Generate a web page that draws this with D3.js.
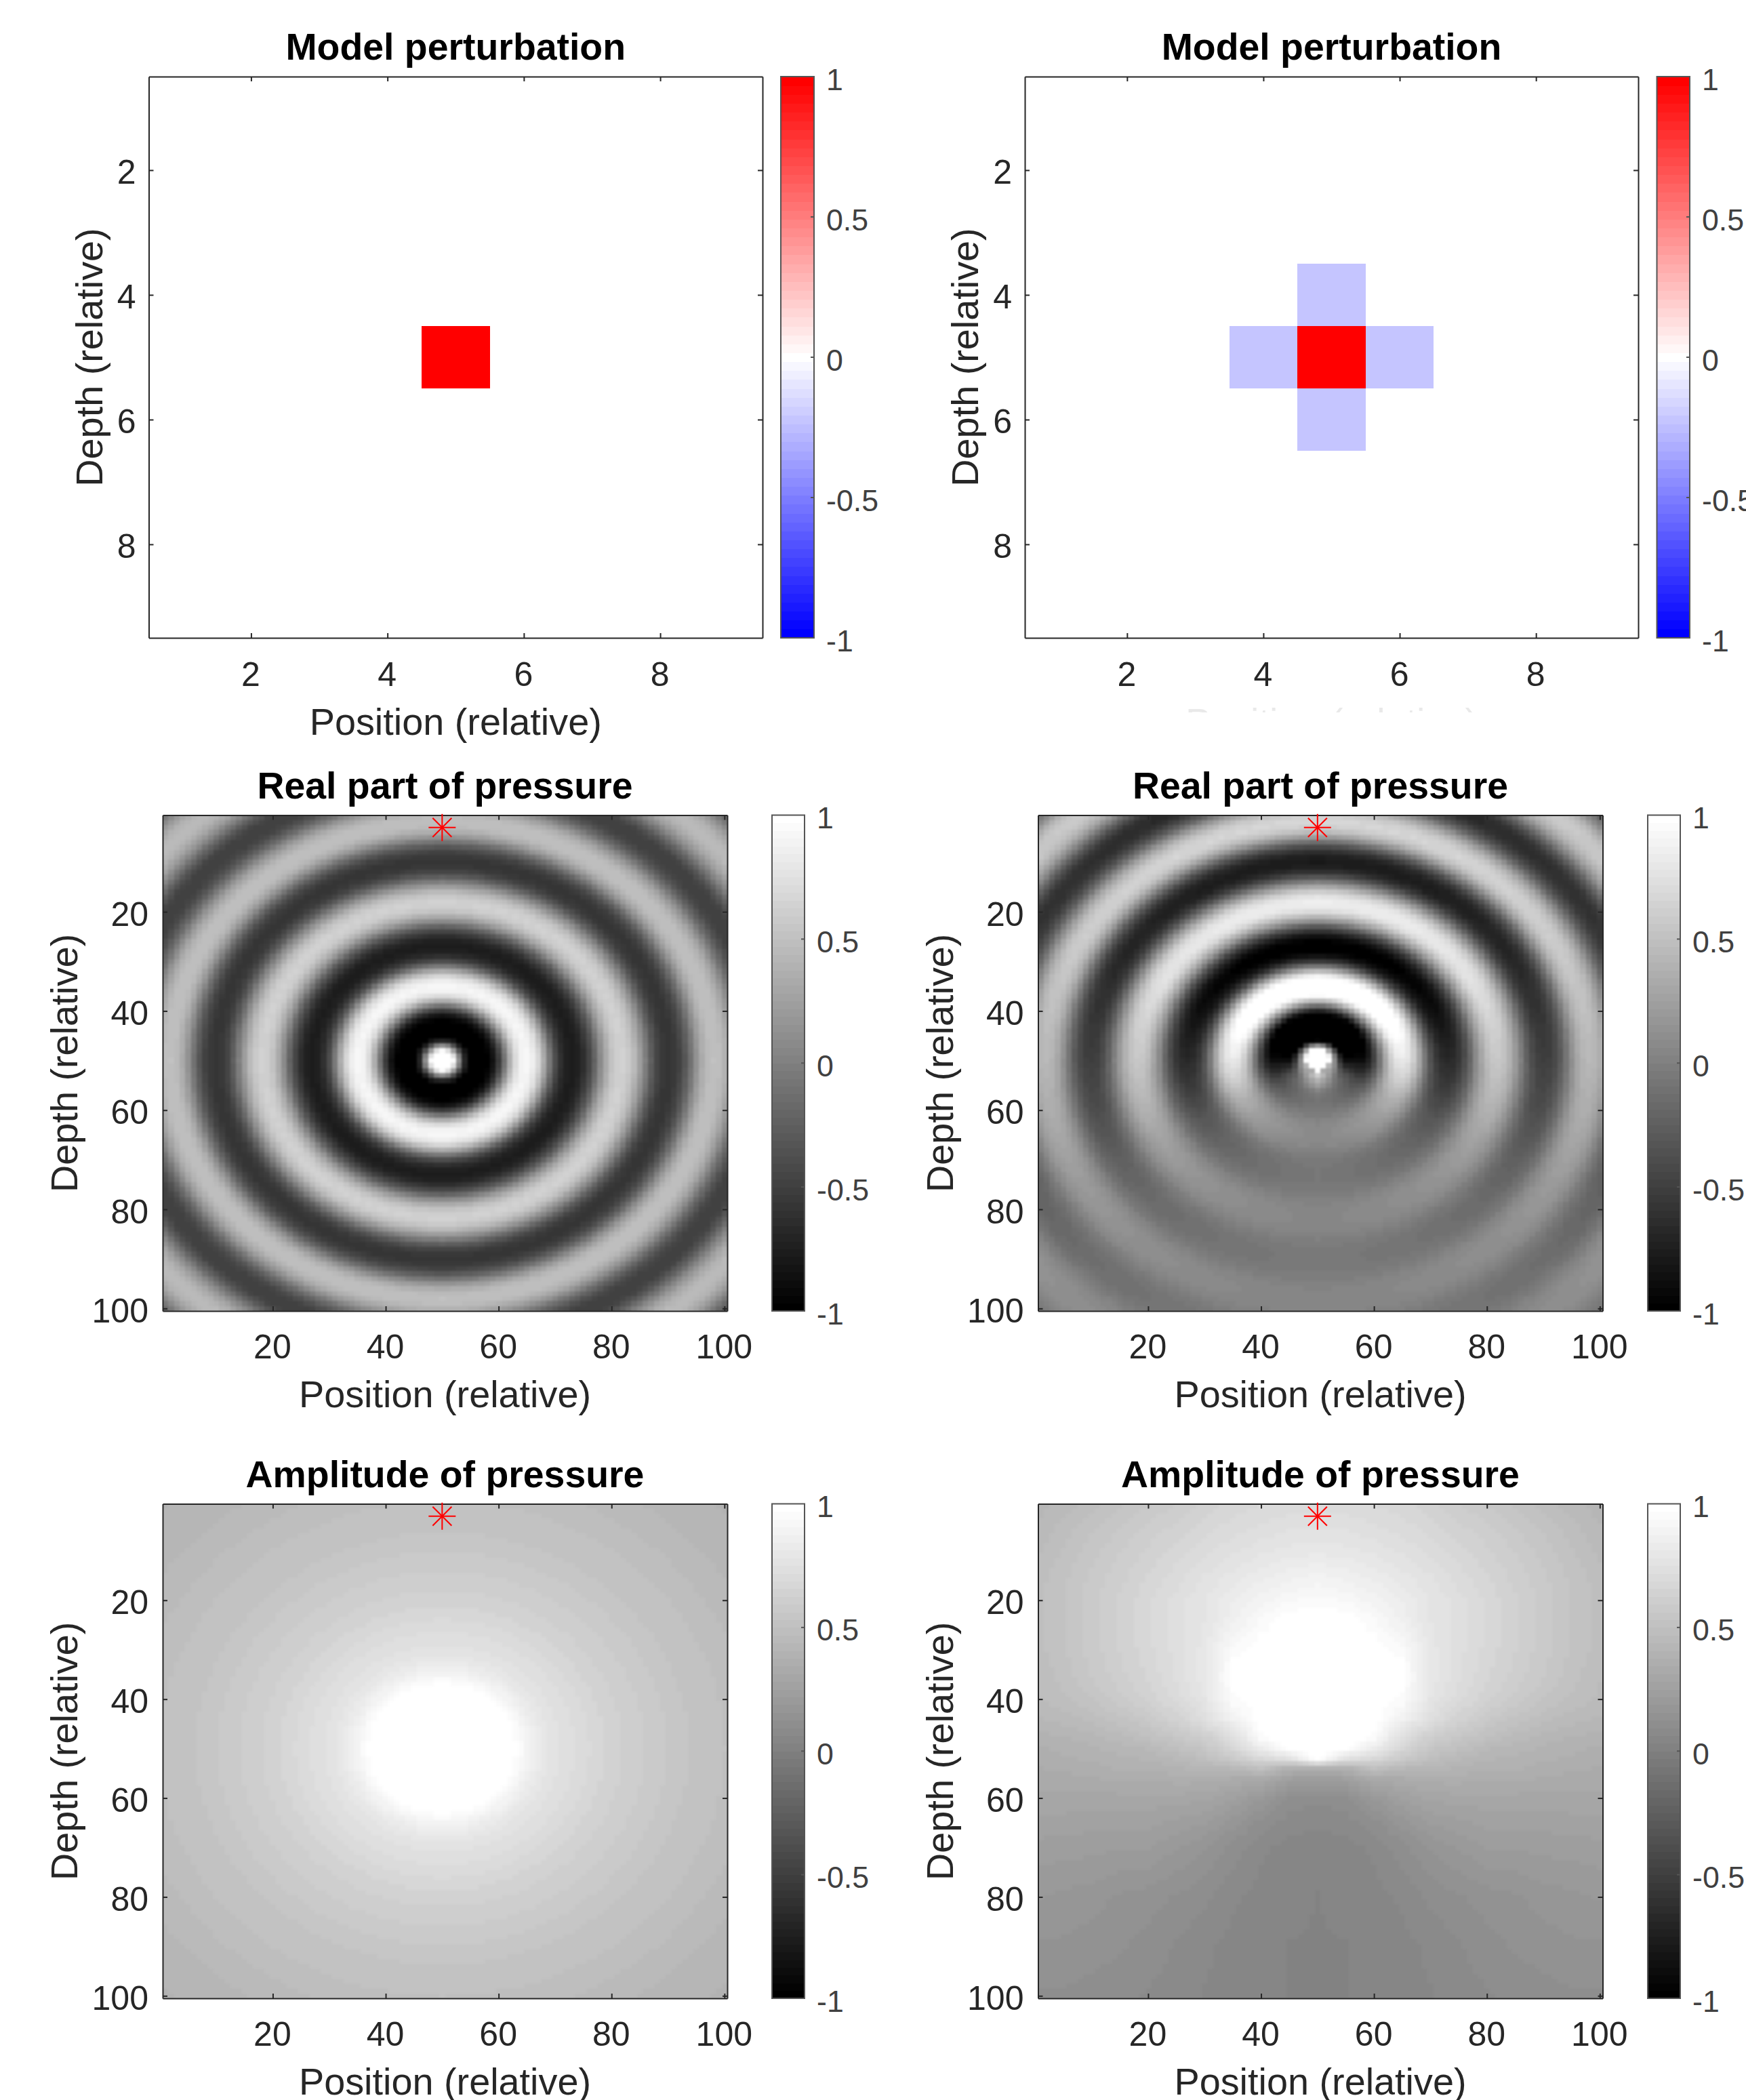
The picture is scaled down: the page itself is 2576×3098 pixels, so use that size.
<!DOCTYPE html>
<html><head><meta charset="utf-8">
<style>html,body{margin:0;padding:0;background:#fff;overflow:hidden}svg{display:block}text{font-family:"Liberation Sans",Arial,sans-serif}</style>
<script src="https://cdn.jsdelivr.net/npm/d3@7"></script></head>
<body><div id="chart"></div>
<script>
// ---- Values estimated by eye from the reference. The pressure fields are not per-cell
// readings: each cell is looked up between the tables below.
const modelTicks=[2,4,6,8];
const fieldTicks=[20,40,60,80,100];
const barTicks=[-1,-0.5,0,0.5,1];
const barLabels=["-1","-0.5","0","0.5","1"];
const perturbationSingle=[
[0,0,0,0,0,0,0,0,0],[0,0,0,0,0,0,0,0,0],[0,0,0,0,0,0,0,0,0],[0,0,0,0,0,0,0,0,0],
[0,0,0,0,1,0,0,0,0],
[0,0,0,0,0,0,0,0,0],[0,0,0,0,0,0,0,0,0],[0,0,0,0,0,0,0,0,0],[0,0,0,0,0,0,0,0,0]];
const perturbationCross=[
[0,0,0,0,0,0,0,0,0],[0,0,0,0,0,0,0,0,0],[0,0,0,0,0,0,0,0,0],
[0,0,0,0,-0.22,0,0,0,0],
[0,0,0,-0.22,1,-0.22,0,0,0],
[0,0,0,0,-0.22,0,0,0,0],
[0,0,0,0,0,0,0,0,0],[0,0,0,0,0,0,0,0,0],[0,0,0,0,0,0,0,0,0]];
// real part read along a radius from the centre (50,50), radius 0..71
const realProfile=[1,1,.95,.1,-.7,-1,-1,-1,-1,-.85,-.55,-.1,.35,.7,.88,.92,.86,.68,.35,-.05,-.4,-.62,-.73,-.77,-.74,-.64,-.46,-.22,.08,.32,.52,.62,.63,.58,.45,.24,0,-.25,-.44,-.55,-.58,-.56,-.48,-.32,-.1,.14,.34,.46,.5,.48,.4,.25,.05,-.16,-.33,-.45,-.5,-.5,-.44,-.3,-.12,.08,.25,.37,.44,.45,.42,.33,.18,0,-.16,-.3];
// amplitude read along a radius for the single cell model
const ampRadii=[0,12,14,16,18,20,25,30,35,40,45,50,55,60,65,71];
const ampProfile=[1,1,.94,.86,.8,.76,.7,.64,.6,.56,.52,.5,.47,.44,.42,.4];
// ring strength in the cross model by angle from straight up
const gainAngles=[0,30,60,90,105,120,135,150,165,180];
const gainValues=[1.35,1.32,1.2,.88,.68,.42,.27,.18,.12,.08];
// bright tail below the centre in the cross model
const tailRadii=[0,2,3,4,5,6,7,8];
const tailValues=[0,.2,.6,.45,.3,.12,.03,0];
const tailAngles=[0,90,135,180];
const tailGain=[0,0,.4,1];
// amplitude for the cross model: rows by depth, columns by distance from x=50
const ampCrossOffsets=[0,5,10,15,20,25,30,35,40,45,50];
const ampCrossDepths=[1,5,10,15,20,24,28,32,36,40,44,48,50,52,54,56,60,65,70,80,90,100];
const ampCross=[
[.7,.7,.69,.67,.64,.6,.56,.53,.49,.45,.42],
[.74,.74,.72,.7,.67,.63,.6,.56,.52,.48,.44],
[.8,.79,.77,.74,.71,.67,.63,.59,.55,.5,.46],
[.88,.86,.83,.79,.75,.7,.66,.61,.57,.52,.48],
[.95,.93,.89,.84,.78,.73,.68,.63,.58,.53,.49],
[1,1,.94,.86,.78,.73,.68,.63,.58,.53,.49],
[1,1,.98,.92,.79,.73,.68,.63,.58,.53,.49],
[1,1,1,.97,.8,.73,.67,.62,.57,.52,.48],
[1,1,1,.98,.8,.72,.66,.61,.56,.51,.47],
[1,1,1,.96,.78,.7,.63,.58,.53,.49,.46],
[1,1,1,.88,.72,.64,.57,.52,.48,.45,.43],
[1,1,.95,.72,.6,.54,.49,.45,.42,.4,.39],
[1,.98,.82,.66,.54,.49,.44,.42,.4,.38,.37],
[1,.75,.68,.58,.48,.44,.41,.4,.38,.37,.35],
[.38,.38,.5,.44,.42,.4,.38,.38,.36,.35,.34],
[.22,.25,.33,.34,.36,.36,.35,.35,.34,.33,.33],
[.1,.11,.19,.25,.29,.3,.3,.3,.3,.3,.3],
[.07,.08,.11,.17,.22,.24,.26,.26,.26,.27,.27],
[.04,.05,.07,.11,.16,.19,.22,.22,.23,.23,.24],
[.03,.04,.05,.07,.1,.12,.14,.15,.17,.18,.19],
[.03,.03,.04,.05,.07,.09,.11,.13,.14,.15,.15],
[.03,.03,.04,.05,.06,.08,.09,.1,.11,.12,.12]];
const sourcePosition=[50,3];
const titles={model:"Model perturbation",real:"Real part of pressure",amp:"Amplitude of pressure"};
const xLabel="Position (relative)",yLabel="Depth (relative)";

// ---- Lookups
const realLookup=d3.scaleLinear().domain(realProfile.map((_,i)=>i)).range(realProfile).clamp(true);
const ampLookup=d3.scaleLinear().domain(ampRadii).range(ampProfile).clamp(true);
const gainLookup=d3.scaleLinear().domain(gainAngles).range(gainValues);
const tailLookup=d3.scaleLinear().domain(tailRadii).range(tailValues).clamp(true);
const tailGainLookup=d3.scaleLinear().domain(tailAngles).range(tailGain);
const crossColumns=ampCrossOffsets.map((_,c)=>d3.scaleLinear().domain(ampCrossDepths).range(ampCross.map(r=>r[c])).clamp(true));
const dist=(x,y)=>Math.hypot(x-50,y-50);
const angle=(x,y)=>Math.atan2(Math.abs(x-50),50-y)*180/Math.PI;
const fieldRealSingle=(x,y)=>realLookup(dist(x,y));
const fieldAmpSingle=(x,y)=>ampLookup(dist(x,y));
const fieldRealCross=(x,y)=>{const r=dist(x,y),a=angle(x,y);
  if(r<2.2)return 1;
  return gainLookup(a)*realLookup(r)+tailLookup(r)*tailGainLookup(a);};
const fieldAmpCross=(x,y)=>d3.scaleLinear().domain(ampCrossOffsets).range(crossColumns.map(s=>s(y))).clamp(true)(Math.abs(x-50));

// ---- Colours
const grayLevels=d3.range(64).map(i=>{const g=Math.round(255*i/63);return `rgb(${g},${g},${g})`;});
const bwrLevels=d3.range(63).map(i=>{const v=-1+2*i/62;const k=Math.round(255*(1-Math.abs(v)));return v<0?`rgb(${k},${k},255)`:`rgb(255,${k},${k})`;});
const grayColor=d3.scaleQuantize().domain([-1,1]).range(grayLevels);
const bwrColor=d3.scaleQuantize().domain([-1,1]).range(bwrLevels);

const W=2576,H=3098,ink="#262626";
const svg=d3.select("#chart").append("svg").attr("width",W).attr("height",H).attr("viewBox",`0 0 ${W} ${H}`);
svg.append("rect").attr("width",W).attr("height",H).attr("fill","#fff");
const soft=svg.append("defs").append("filter").attr("id","soft").attr("color-interpolation-filters","sRGB")
  .attr("x","-2%").attr("y","-2%").attr("width","104%").attr("height","104%");
soft.append("feGaussianBlur").attr("in","SourceGraphic").attr("stdDeviation",1.8).attr("result","b");
const merge=soft.append("feMerge");
merge.append("feMergeNode").attr("in","SourceGraphic");
merge.append("feMergeNode").attr("in","b");

const panels=[
 {kind:"model",matrix:perturbationSingle,left:219.5,right:1125,top:113,bottom:941,bar:[1152,1201]},
 {kind:"model",matrix:perturbationCross,left:1512,right:2417,top:113,bottom:941,bar:[2444.5,2493],noXLabel:true},
 {kind:"real",field:fieldRealSingle,left:240,right:1073,top:1202.5,bottom:1934,bar:[1139,1187]},
 {kind:"real",field:fieldRealCross,left:1531.5,right:2364.5,top:1202.5,bottom:1934,bar:[2431,2479]},
 {kind:"amp",field:fieldAmpSingle,left:240,right:1073,top:2218.5,bottom:2948,bar:[1139,1187]},
 {kind:"amp",field:fieldAmpCross,left:1531.5,right:2364.5,top:2218.5,bottom:2948,bar:[2431,2479]}
];

panels.forEach((p,pi)=>{
  const isModel=p.kind==="model";
  const n=isModel?9:100;
  const x=d3.scaleLinear().domain([.5,n+.5]).range([p.left,p.right]);
  const y=d3.scaleLinear().domain([.5,n+.5]).range([p.top,p.bottom]);
  const color=isModel?bwrColor:grayColor;
  const ticks=isModel?modelTicks:fieldTicks;
  const g=svg.append("g").attr("class","panel panel-"+pi);
  const cells=[];
  d3.range(1,n+1).forEach(r=>d3.range(1,n+1).forEach(c=>{
    cells.push({c,r,v:isModel?p.matrix[r-1][c-1]:p.field(c,r)});
  }));
  svg.append("clipPath").attr("id","plot"+pi).append("rect").attr("x",p.left).attr("y",p.top).attr("width",p.right-p.left).attr("height",p.bottom-p.top);
  const cg=g.append("g").attr("clip-path",`url(#plot${pi})`).append("g").attr("class","cells").attr("shape-rendering","crispEdges");
  if(!isModel) cg.attr("filter","url(#soft)");
  cg.selectAll("rect").data(cells).join("rect")
   .attr("x",d=>x(d.c-.5)).attr("y",d=>y(d.r-.5))
   .attr("width",d=>x(d.c+.5)-x(d.c-.5)).attr("height",d=>y(d.r+.5)-y(d.r-.5))
   .attr("fill",d=>color(Math.max(-1,Math.min(1,d.v))));

  // axes on all four sides, ticks inward
  const tickLen=7;
  const mk=(axis,tr,labels)=>{
    const a=g.append("g").attr("transform",tr).call(axis.tickValues(ticks).tickSize(-tickLen).tickSizeOuter(0).tickFormat(labels?d3.format("d"):""));
    a.selectAll("path,line").attr("stroke",ink).attr("stroke-width",2);
    a.selectAll("text").attr("fill",ink).attr("font-size",50);
    return a;
  };
  const bot=mk(d3.axisBottom(x),`translate(0,${p.bottom})`,true);
  bot.selectAll("text").attr("y",isModel?71:70).attr("dy",0).attr("dx",-1);
  mk(d3.axisTop(x),`translate(0,${p.top})`,false);
  const lft=mk(d3.axisLeft(y),`translate(${p.left},0)`,true);
  lft.selectAll("text").attr("x",isModel?-19:-21).attr("dy",isModel?19:20);
  mk(d3.axisRight(y),`translate(${p.right},0)`,false);

  const cx=(p.left+p.right)/2,cy=(p.top+p.bottom)/2;
  g.append("text").attr("x",cx).attr("y",p.top-25).attr("text-anchor","middle").attr("font-size",55.4).attr("font-weight","bold").attr("fill","#000").text(titles[p.kind]);
  const xlab=g.append("text").attr("x",cx).attr("y",p.bottom+(isModel?143:141.5)).attr("text-anchor","middle").attr("font-size",55.8).attr("fill",ink).text(xLabel);
  if(p.noXLabel){
    svg.append("clipPath").attr("id","eraseClip").append("rect").attr("x",p.left).attr("y",p.bottom+85).attr("width",p.right-p.left).attr("height",25);
    xlab.attr("clip-path","url(#eraseClip)").attr("fill-opacity",.1);
  }
  const ybase=p.left-(isModel?69:126);
  g.append("text").attr("transform",`translate(${ybase},${cy}) rotate(-90)`).attr("text-anchor","middle").attr("font-size",55.8).attr("fill",ink).text(yLabel);

  // colourbar
  const by=d3.scaleLinear().domain([-1,1]).range([p.bottom,p.top]);
  const levels=color.range();
  const cb=svg.append("g").attr("class","colorbar");
  cb.append("g").attr("shape-rendering","crispEdges").selectAll("rect").data(levels).join("rect")
    .attr("x",p.bar[0]).attr("width",p.bar[1]-p.bar[0])
    .attr("y",(d,i)=>by(-1+2*(i+1)/levels.length)).attr("height",(p.bottom-p.top)/levels.length+.5)
    .attr("fill",d=>d);
  cb.append("rect").attr("x",p.bar[0]).attr("y",p.top).attr("width",p.bar[1]-p.bar[0]).attr("height",p.bottom-p.top).attr("fill","none").attr("stroke","#555").attr("stroke-width",2);
  barTicks.forEach((t,i)=>{
    if(i>0&&i<barTicks.length-1) cb.append("line").attr("x1",p.bar[1]-5).attr("x2",p.bar[1]).attr("y1",by(t)).attr("y2",by(t)).attr("stroke","#555").attr("stroke-width",2);
    cb.append("text").attr("x",p.bar[1]+18).attr("y",by(t)+19.5).attr("font-size",44.7).attr("fill","#404040").text(barLabels[i]);
  });

  if(!isModel){
    const sx=x(sourcePosition[0]),sy=y(sourcePosition[1]);
    const star=g.append("g").attr("class","source").attr("stroke","#f00").attr("stroke-width",2);
    [[20,0],[0,20],[14,14],[14,-14]].forEach(([dx,dy])=>star.append("line").attr("x1",sx-dx).attr("x2",sx+dx).attr("y1",sy-dy).attr("y2",sy+dy));
  }
});
</script></body></html>
